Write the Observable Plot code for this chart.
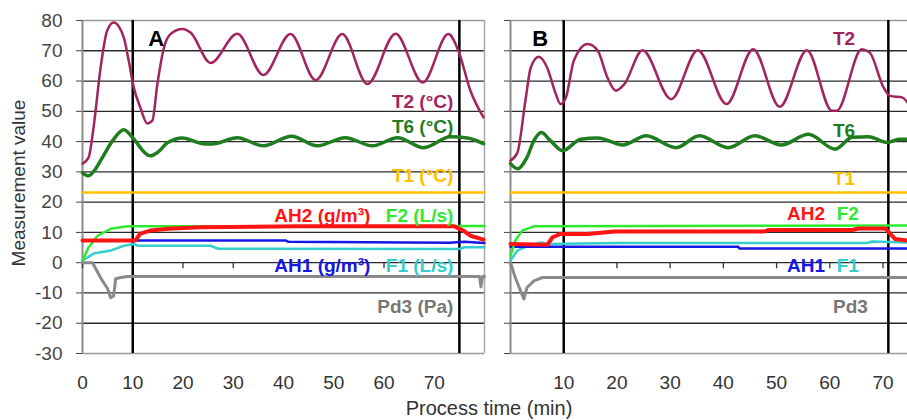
<!DOCTYPE html>
<html>
<head>
<meta charset="utf-8">
<script src="https://cdn.jsdelivr.net/npm/d3@7"></script>
<script src="https://cdn.jsdelivr.net/npm/@observablehq/plot@0.6"></script>
<style>
  body { margin: 0; background: #fff; }
  #chart { position: relative; width: 907px; height: 420px; overflow: hidden;
           font-family: "Liberation Sans", Arial, sans-serif; color: #333; }
  #chart svg { position: absolute; top: 0; }
  .ytitle { position: absolute; left: 19px; top: 183px; white-space: nowrap;
            transform: translate(-50%, -50%) rotate(-90deg); font-size: 19px; }
  .xtitle { position: absolute; left: 489px; top: 408px; white-space: nowrap;
            transform: translate(-50%, -50%); font-size: 20px; }
</style>
</head>
<body>
<div id="chart">
  <div class="ytitle">Measurement value</div>
  <div class="xtitle">Process time (min)</div>
</div>
<script>
// Process time (min) / measurement value pairs, run A
const t2A = [[0,32.7],[1.2,34.7],[2.2,44.6],[3.6,64.4],[4.9,76.6],[6.2,79.3],[8.2,74.4],[9.2,66.7],[10.2,57.9],[11.5,51.3],[12.9,46],[13.9,46.9],[14.9,59],[16.2,71],[17.5,75.5],[19.9,77.2],[21.5,76],[25.5,66],[30.8,75.6],[36,62],[41.4,75.5],[46.4,60.3],[51.7,75.5],[56.7,59],[62.3,75.6],[67.7,59.5],[72.8,75.5],[74.8,70],[77.2,56.8],[79.8,48]];
const t6A = [[0,29.7],[1.2,28.7],[2.4,30.5],[3.6,33.7],[6,40.3],[8.2,43.9],[10.2,40.9],[12,37],[13.5,35.3],[15,36.5],[16.9,39.6],[19.9,41.2],[24,39.3],[25.8,39.2],[30.8,41.3],[36,38.6],[41.6,41.8],[46.7,38.6],[52.3,41.3],[57.7,38.6],[62.7,41.3],[67.9,38],[73.2,41.6],[76.6,41.2],[79.8,39.3]];
const t1A = [[0,23.2],[80,23.2]];
const ah2A = [[0,7.3],[10.5,7.3],[11.5,9.6],[13.5,10.6],[17,11.2],[23.5,11.7],[43,12],[74,12],[75.8,10.6],[77.2,8.9],[79.8,7.6]];
const f2A = [[0,0.7],[1.2,5],[3,8.9],[5.6,11.2],[9,12],[80,12.1]];
const ah1A = [[0,7.3],[40.5,7.3],[41,6.9],[73,6.6],[76,6.9],[80,6.5]];
const f1A = [[0,0.7],[2.2,3],[5.6,4],[8.2,5.6],[10.2,6.2],[11,5.6],[25.5,5.6],[27,4.6],[75,4.5],[76,5.1],[80,5.1]];
const pd3A = [[0,0],[2,0],[3.6,-5],[5,-8.6],[5.6,-11.6],[6.2,-11],[6.6,-5.3],[7.6,-4.9],[9,-4.6],[79,-4.6],[79.3,-8],[79.6,-4.6],[80,-4.6]];

// Run B
const t2B = [[0,33.7],[1.3,36.4],[2.8,53.5],[3.8,64.4],[5.3,68],[6.9,64.4],[8.5,55.8],[9.4,52.4],[10.4,54.5],[11.9,66.7],[14.5,72.2],[16.4,70],[18.2,61.2],[19.8,56.8],[21.4,59],[24.8,70.2],[30.2,54],[35.2,70.2],[40.6,52.4],[45.6,70.5],[50.6,51.5],[55.7,70.2],[60.4,50.2],[61.3,50.2],[66,70.5],[67.5,69.4],[70.1,57.9],[71.3,55.1],[73.6,54.6],[74.6,52.9]];
const t6B = [[0,32.7],[1.3,31],[3.1,34.8],[4.4,40.3],[5.8,43],[7.5,40.3],[9.8,37],[13.2,40.8],[16.4,41.2],[21.1,38.9],[25.5,41.9],[31.1,38],[35.5,41.9],[40.9,38],[45.9,41.9],[50.9,38.9],[56,42.4],[61,37.5],[64.2,41.4],[67.3,41.6],[70.8,39.7],[73,40.8],[74.6,40.8]];
const t1B = [[0,23.2],[74.6,23.2]];
const ah2B = [[0,6.2],[6.9,5.9],[7.9,8.4],[9.4,9.5],[14.5,9.5],[19.5,10.3],[47.7,10.3],[48.4,10.8],[64.2,10.8],[65.4,11.3],[70.4,11.3],[72.3,7.8],[74.6,7.3]];
const f2B = [[0,2.3],[0.9,7.3],[2.2,10.6],[4.4,12],[74.6,12.3]];
const ah1B = [[0,5.3],[42.8,5.3],[43,4.7],[74.6,4.7]];
const f1B = [[0,0.7],[1.3,4],[2.5,5],[5.7,6.7],[7,6.2],[20,6.5],[67,6.5],[68,7],[74.6,6.7]];
const pd3B = [[0,0],[0.9,-4.9],[2.5,-12],[3.1,-8.2],[4.4,-6],[6,-4.9],[74.6,-4.9]];

// Axis ticks, phase markers and label texts
const yTicks = [-30,-20,-10,0,10,20,30,40,50,60,70,80];
const gridTicks = [-20,-10,0,10,20,30,40,50,60,70];
const xTicksA = [0,10,20,30,40,50,60,70];
const xTicksB = [10,20,30,40,50,60,70];
const markersA = [10, 75];
const markersB = [10, 71];
const namesA = ["T2 (°C)", "T6 (°C)", "T1 (°C)", "AH2 (g/m³)", "F2 (L/s)", "AH1 (g/m³)", "F1 (L/s)", "Pd3 (Pa)"];
const namesB = ["T2", "T6", "T1", "AH2", "F2", "AH1", "F1", "Pd3"];

const colors = {
  T2: "#a1245f", T6: "#1f7d1f", T1: "#ffc000", AH2: "#ff1414",
  F2: "#2eea2e", AH1: "#1616e6", F1: "#35cdcd", Pd3: "#8a8a8a"
};

function seriesMarks(s) {
  const line = (data, stroke, strokeWidth, curve = "linear") =>
    Plot.line(data, {x: d => d[0], y: d => d[1], stroke, strokeWidth, curve, strokeLinejoin: "round"});
  return [
    line(s.t1, colors.T1, 2.5),
    line(s.f1, colors.F1, 2.5),
    line(s.ah1, colors.AH1, 2.5),
    line(s.f2, colors.F2, 2.5),
    line(s.ah2, colors.AH2, 4),
    line(s.pd3, colors.Pd3, 3),
    line(s.t6, colors.T6, 3.5, "monotone-x"),
    line(s.t2, colors.T2, 2.5, "monotone-x")
  ];
}

function label(text, x, y, fill, textAnchor) {
  return Plot.text([text], {x, y, text: d => d, fill, textAnchor, fontSize: 19, fontWeight: "bold"});
}

function frame(xDomain, xTicks, markers, showLabels) {
  return [
    Plot.ruleY(gridTicks, {y: d => d, stroke: "#2a2a2a", strokeWidth: 1.3}),
    Plot.ruleY([-30, 80], {y: d => d, stroke: "#9a9a9a", strokeWidth: 1.5}),
    Plot.ruleX([xDomain[0]], {x: d => d, stroke: "#8c8c8c", strokeWidth: 2}),
    Plot.ruleX(xTicks, {x: d => d, y1: 0, y2: -2, stroke: "#333", strokeWidth: 1.3}),
    Plot.axisY({ticks: yTicks, tickSize: 6, tickPadding: 14, color: "#444", label: null,
                tickFormat: showLabels ? (d => String(d)) : (() => "")}),
    Plot.axisX({ticks: xTicks, tickSize: 0, tickPadding: 22, color: "#333", label: null,
                tickFormat: d => String(d)}),
    Plot.ruleX(markers, {x: d => d, stroke: "#000", strokeWidth: 2.5})
  ];
}

const common = {
  height: 420, marginTop: 20, marginBottom: 67,
  y: {domain: [-30, 80]},
  style: {fontFamily: '"Liberation Sans", Arial, sans-serif', fontSize: "19px", background: "transparent", overflow: "visible"}
};

const chartA = Plot.plot({
  ...common,
  width: 490, marginLeft: 82, marginRight: 6,
  x: {domain: [0, 80]},
  marks: [
    ...frame([0, 80], xTicksA, markersA, true),
    Plot.ruleX([80], {x: d => d, stroke: "#a8a8a8", strokeWidth: 1.5}),
    ...seriesMarks({t2: t2A, t6: t6A, t1: t1A, ah2: ah2A, f2: f2A, ah1: ah1A, f1: f1A, pd3: pd3A}),
    Plot.text(["A"], {x: 13.1, y: 73.8, text: d => d, textAnchor: "start", fontSize: 22, fontWeight: "bold", fill: "#000"}),
    label(namesA[0], 73.8, 53.1, colors.T2, "end"),
    label(namesA[1], 73.8, 44.7, colors.T6, "end"),
    label(namesA[2], 73.8, 28.5, colors.T1, "end"),
    label(namesA[3], 57.3, 15.5, colors.AH2, "end"),
    label(namesA[4], 73.8, 15.5, colors.F2, "end"),
    label(namesA[5], 57.3, -1, colors.AH1, "end"),
    label(namesA[6], 73.8, -1, colors.F1, "end"),
    label(namesA[7], 73.8, -14.7, "#777", "end")
  ]
});

const chartB = Plot.plot({
  ...common,
  width: 417, marginLeft: 20, marginRight: 0,
  x: {domain: [0, 74.6]},
  marks: [
    ...frame([0, 74.6], xTicksB, markersB, false),
    ...seriesMarks({t2: t2B, t6: t6B, t1: t1B, ah2: ah2B, f2: f2B, ah1: ah1B, f1: f1B, pd3: pd3B}),
    Plot.text(["B"], {x: 4.1, y: 73.8, text: d => d, textAnchor: "start", fontSize: 22, fontWeight: "bold", fill: "#000"}),
    label(namesB[0], 60.6, 73.8, colors.T2, "start"),
    label(namesB[1], 60.6, 43.6, colors.T6, "start"),
    label(namesB[2], 60.6, 27.7, colors.T1, "start"),
    label(namesB[3], 59.1, 16, colors.AH2, "end"),
    label(namesB[4], 61.3, 16, colors.F2, "start"),
    label(namesB[5], 59.1, -1, colors.AH1, "end"),
    label(namesB[6], 61.3, -1, colors.F1, "start"),
    label(namesB[7], 60.6, -14.7, "#777", "start")
  ]
});

chartA.style.left = "0px";
chartB.style.left = "490px";
const root = document.getElementById("chart");
root.appendChild(chartA);
root.appendChild(chartB);
</script>
</body>
</html>
